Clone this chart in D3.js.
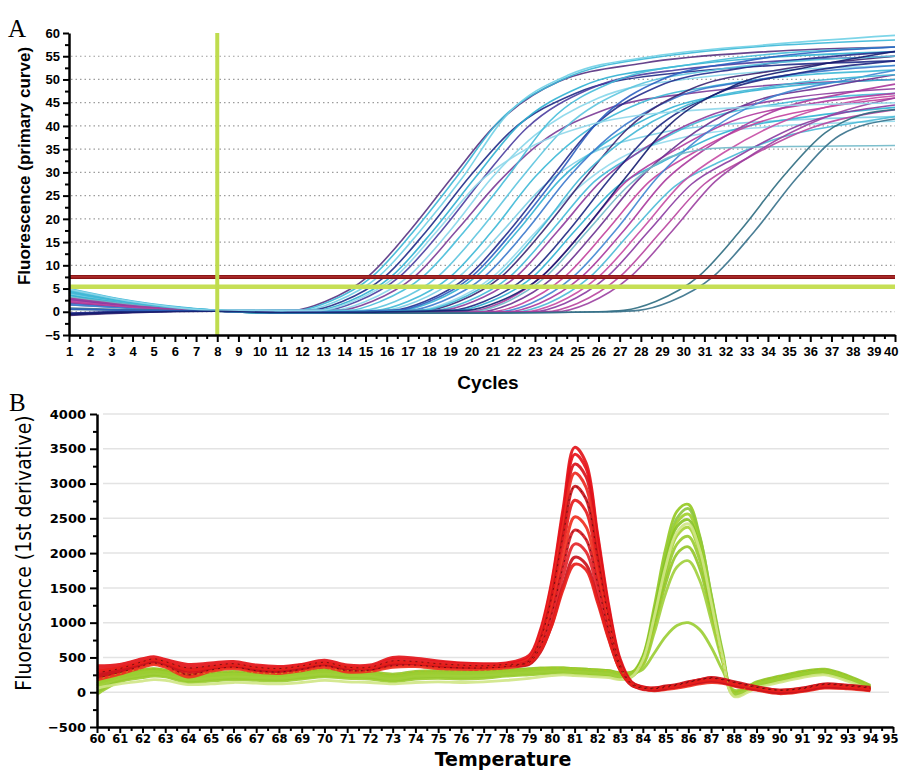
<!DOCTYPE html>
<html>
<head>
<meta charset="utf-8">
<script src="https://cdn.jsdelivr.net/npm/d3@7"></script>
<style>
  body { margin: 0; background: #fff; }
  svg { display: block; }
</style>
</head>
<body>
<div id="wrapper"></div>
<script>
// ---------- Panel A : amplification (primary curve) ----------
const cycleTicks = [1,2,3,4,5,6,7,8,9,10,11,12,13,14,15,16,17,18,19,20,21,22,23,24,25,26,27,28,29,30,31,32,33,34,35,36,37,38,39,40];
const fluorTicksA = [-5,0,5,10,15,20,25,30,35,40,45,50,55,60];
const dottedGridA = [0,10,15,20,25,30,35,40,45,50,55];
const thresholdRed = 7.5;
const thresholdGreen = 5.4;
const markerCycle = 8;

const ampColors = [
  '#57307f','#38b6d6','#6fd0e6','#1f2a86','#2fb0d2','#4a3c9e','#86d6ea','#7a3a96','#45bcd9',
  '#3cb8d6','#7ccfe5','#242c8c','#33b3d4','#3a78cc','#92d9ec','#3b2470','#41bad8','#8e3a9c','#1d2680','#2fb2d3',
  '#b03a9e','#6a2f8e','#c2409c','#3f86d2','#a8379c','#4ab9d6','#c54aa3','#8a3aa0','#6fb8c8','#b8449f','#9b3fa0',
  '#2c6c80','#36708a','#5cc4de','#2e5fc0','#3fb7d5','#8fd7ea','#141c6e'
];

const ampCurves = [
  [[1,2.8],[4,1.5],[8,0.3],[11.6,0.3],[13.1,2.2],[15.1,7.5],[17.1,17.5],[19.1,29],[21.1,40],[24.1,49.5],[28.1,53.5],[34,56],[40,57]],
  [[1,4.8],[4,2.2],[8,0.3],[11.8,0.3],[13.3,2.2],[15.3,7.5],[17.3,17.5],[19.3,29],[21.3,41],[24.3,50],[28.3,54.5],[40,58.5]],
  [[1,4.2],[4,1.8],[8,0.2],[12.1,0.3],[13.6,2.2],[15.6,7.5],[17.6,17.5],[19.6,29],[21.6,42],[24.6,51],[28.6,55],[34,57.5],[40,59.5]],
  [[1,-0.5],[4,0],[8,0.2],[12.4,0.3],[13.9,2.2],[15.9,7.5],[17.9,17.5],[19.9,29],[21.9,39],[24.9,47],[28.9,51],[40,54]],
  [[1,3.5],[4,1.5],[8,0.2],[12.7,0.3],[14.2,2.2],[16.2,7.5],[18.2,17.5],[20.2,29],[22.2,40],[25.2,48.5],[29.2,52.5],[40,56]],
  [[1,1.5],[4,0.8],[8,0.2],[13.1,0.3],[14.6,2.2],[16.6,7.5],[18.6,17.5],[20.6,29],[22.6,39.5],[25.6,48],[29.6,52],[40,55]],
  [[1,4.6],[4,2],[8,0.3],[13.5,0.3],[15,2.2],[17,7.5],[19,17.5],[21,29],[23,38],[26,46],[30,50],[40,53]],
  [[1,2.5],[4,1.2],[8,0.2],[13.8,0.3],[15.3,2.2],[17.3,7.5],[19.3,17.5],[21.3,28],[23.3,36.5],[26.3,43.5],[30.3,47],[40,50]],
  [[1,4],[4,1.8],[8,0.2],[14.2,0.3],[15.7,2.2],[17.7,7.5],[19.7,17.5],[21.7,29],[23.7,41],[26.7,49.5],[30.7,53.5],[40,57]],
  [[1,4.4],[4,2],[8,0.3],[11,-0.2],[15.5,0.3],[17,2.2],[19,7.5],[21,17.5],[23,29],[25,37.5],[28,45],[32,49],[40,52]],
  [[1,3.8],[4,1.7],[8,0.2],[11,-0.2],[15.9,0.3],[17.4,2.2],[19.4,7.5],[21.4,17],[23.4,27],[25.4,33.5],[28.4,38],[32.4,40.5],[40,42]],
  [[1,-0.3],[4,0.1],[8,0.2],[11,-0.2],[16.3,0.3],[17.8,2.2],[19.8,7.5],[21.8,17.5],[23.8,29],[25.8,40],[28.8,48.5],[32.8,52.5],[40,56]],
  [[1,5],[4,2.3],[8,0.3],[11,-0.3],[16.7,0.3],[18.2,2.2],[20.2,7.5],[22.2,17.5],[24.2,28.5],[26.2,36],[29.2,43.5],[33.2,47.5],[40,50]],
  [[1,1.8],[4,0.9],[8,0.2],[11,-0.2],[17.1,0.3],[18.6,2.2],[20.6,7.5],[22.6,17.5],[24.6,29],[26.6,38],[29.6,46],[33.6,50],[40,53]],
  [[1,4.2],[4,1.9],[8,0.2],[11,-0.3],[17.5,0.3],[19,2.2],[21,7.5],[23,17],[25,26.5],[27,33],[30,37.5],[34,39.8],[40,41]],
  [[1,-0.8],[4,-0.2],[8,0.1],[11,-0.2],[17.9,0.3],[19.4,2.2],[21.4,7.5],[23.4,17.5],[25.4,29],[27.4,39.5],[30.4,48],[34.4,52],[40,55]],
  [[1,4.5],[4,2],[8,0.3],[11,-0.2],[18.3,0.3],[19.8,2.2],[21.8,7.5],[23.8,17.5],[25.8,28],[27.8,34],[30.8,41],[34.8,45],[40,47]],
  [[1,2.6],[4,1.3],[8,0.2],[11,-0.2],[18.6,0.3],[20.1,2.2],[22.1,7.5],[24.1,17.5],[26.1,28],[28.1,35],[31.1,42],[35.1,46],[40,48]],
  [[1,-0.4],[4,0],[8,0.2],[11,-0.2],[19.1,0.3],[20.6,2.2],[22.6,7.5],[24.6,17.5],[26.6,29],[28.6,39],[31.6,47],[35.6,51.5],[40,54]],
  [[1,3.6],[4,1.6],[8,0.2],[11,-0.3],[19.4,0.3],[20.9,2.2],[22.9,7.5],[24.9,17.5],[26.9,27],[28.9,32],[31.9,38.5],[35.9,42],[40,44]],
  [[1,2.2],[4,1],[8,0.2],[11,-0.2],[19.8,0],[21.3,1.8],[23.3,7.5],[25.3,17.5],[27.3,28],[29.3,34],[32.3,41],[36.3,45],[40,47]],
  [[1,2],[4,1],[8,0.2],[11,-0.2],[20.4,0],[21.9,1.8],[23.9,7.5],[25.9,17.5],[27.9,28.5],[29.9,36.5],[32.9,44.5],[36.9,48.5],[40,51]],
  [[1,3],[4,1.4],[8,0.2],[11,-0.2],[20.9,0],[22.4,1.8],[24.4,7.5],[26.4,17.5],[28.4,28],[30.4,34],[33.4,40.5],[37.4,44.5],[40,46]],
  [[1,1.5],[4,0.7],[8,0.2],[11,-0.2],[21.3,0],[22.8,1.8],[24.8,7.5],[26.8,17.5],[28.8,29],[30.8,37.5],[33.8,45.5],[37.8,50],[40,52]],
  [[1,2.8],[4,1.3],[8,0.2],[11,-0.2],[21.7,0],[23.2,1.8],[25.2,7.5],[27.2,17.5],[29.2,28.5],[31.2,35.5],[34.2,43],[38.2,47.5],[40,49]],
  [[1,4.1],[4,1.9],[8,0.2],[11,-0.3],[22.1,0],[23.6,1.8],[25.6,7.5],[27.6,17.5],[29.6,27],[31.6,32],[34.6,37.5],[38.6,41],[40,42]],
  [[1,2.4],[4,1.1],[8,0.2],[11,-0.2],[22.5,0],[24,1.8],[26,7.5],[28,17.5],[30,28],[32,34.5],[35,41.5],[39,46],[40,46.5]],
  [[1,2.7],[4,1.2],[8,0.2],[11,-0.2],[22.9,0],[24.4,1.8],[26.4,7.5],[28.4,17.5],[30.4,27.5],[32.4,33],[35.4,40],[40,44.5]],
  [[1,3.2],[4,1.5],[8,0.2],[11,-0.3],[20,0],[21.5,1.8],[23.5,7.5],[25.5,17.5],[27.5,27.5],[29.5,33.5],[32,35.3],[40,35.8]],
  [[1,2.1],[4,1],[8,0.2],[11,-0.2],[23.5,0],[25,1.8],[27,7.5],[29,17.5],[31,27.5],[33,33],[36,39.5],[40,43.5]],
  [[1,2.9],[4,1.3],[8,0.2],[11,-0.2],[24,0],[25.5,1.8],[27.5,7.5],[29.5,17.5],[31.5,28],[33.5,34.5],[36.5,41.5],[40,46]],
  [[1,0.5],[4,0.3],[8,0.1],[11,-0.3],[20,-0.3],[26,0],[27.2,0.3],[28.7,2.2],[30.7,7.5],[32.7,17.5],[34.7,29],[36.7,38.5],[38.5,42.5],[40,43.5]],
  [[1,0.8],[4,0.4],[8,0.1],[11,-0.3],[20,-0.3],[26.5,0],[27.9,0.3],[29.4,2.2],[31.4,7.5],[33.4,17.5],[35.4,29],[37.4,38],[40,41.5]],
  [[1,4.7],[4,2.1],[8,0.3],[11,-0.2],[14.9,0.3],[16.4,2.2],[18.4,7.5],[20.4,17.5],[22.4,29],[24.4,39.5],[27.4,48],[31.4,52],[40,55]],
  [[1,0.6],[4,0.3],[8,0.1],[11,-0.2],[16.5,0.3],[18,2.2],[20,7.5],[22,17.5],[24,29],[26,41],[29,50],[33,54],[40,57]],
  [[1,4.3],[4,1.9],[8,0.2],[11,-0.3],[17.7,0.3],[19.2,2.2],[21.2,7.5],[23.2,17.5],[25.2,29],[27.2,37],[30.2,44.5],[34.2,48.5],[40,51]],
  [[1,4.9],[4,2.2],[8,0.3],[12.9,0.3],[14.4,2.2],[16.4,7.5],[18.4,17.5],[20.4,28],[22.4,34.5],[25.4,40],[29.4,43],[40,45]],
  [[1,-0.6],[4,-0.1],[8,0.1],[11,-0.2],[19.8,0.3],[21.3,2.2],[23.3,7.5],[25.3,17.5],[27.3,29],[29.3,40],[32.3,48.5],[36.3,53],[40,56]]
];

// ---------- Panel B : melt curves (1st derivative) ----------
const tempTicks = [60,61,62,63,64,65,66,67,68,69,70,71,72,73,74,75,76,77,78,79,80,81,82,83,84,85,86,87,88,89,90,91,92,93,94,95];
const derivTicks = [-500,0,500,1000,1500,2000,2500,3000,3500,4000];
const gridB = [0,500,1000,1500,2000,2500,3000,3500,4000];
const meltTemps = [60,61,62,62.5,63,64,65,66,67,68,69,70,71,72,73,74,75,76,77,78,79,79.5,80,80.5,81,81.5,82,82.5,83,83.5,84,84.5,85,85.5,86,86.5,87,87.5,88,89,90,91,92,93,94];

const redColors = ['#e3161b','#e8121a','#d9141c','#ee2a22','#cc1419','#e51d1d','#f0301f','#d81a22','#e5262a','#c9141c','#e8201b'];
const redCurves = [
  [380,400,480,510,470,400,420,440,390,370,400,460,390,390,500,490,450,420,410,420, 530,900,1600,2650,3520,3300,2300,1250,480,150,70, 60,80,100,140,170,190,170,130,60,10,40,100,80,50],
  [300,360,450,490,460,360,390,420,370,350,390,440,370,370,470,460,430,410,400,410, 500,860,1560,2580,3420,3220,2250,1200,450,130,60, 50,70,90,130,160,180,160,120,70,20,50,110,90,60],
  [250,330,420,460,430,320,370,400,350,330,370,420,350,350,430,430,400,390,380,390, 470,800,1450,2450,3280,3100,2180,1180,440,140,80, 40,60,80,110,150,170,150,110,50,0,30,90,70,40],
  [220,300,400,440,400,280,340,380,330,310,350,400,330,330,400,410,380,370,360,380, 480,820,1480,2400,3150,2950,2050,1100,400,120,50, 30,50,70,100,140,160,140,100,40,-10,20,80,60,30],
  [200,280,380,420,380,250,320,360,310,290,330,380,310,320,380,390,360,350,350,370, 450,760,1380,2260,2960,2780,1950,1050,400,130,70, 60,90,110,150,180,210,190,150,80,30,60,120,100,70],
  [330,380,470,500,450,330,360,390,340,330,360,420,350,340,420,420,390,380,370,390, 440,720,1300,2120,2760,2600,1820,1000,380,120,60, 40,60,90,120,150,170,150,110,50,10,40,100,80,40],
  [180,260,360,400,360,220,300,340,290,270,310,360,290,300,360,370,340,330,330,350, 420,680,1200,1950,2520,2380,1700,950,370,120,50, 20,40,60,90,120,140,130,90,30,-20,10,60,50,20],
  [280,340,440,480,440,350,380,410,360,340,380,430,360,360,450,440,410,390,380,400, 430,660,1130,1820,2330,2200,1580,880,350,110,60, 50,70,100,140,180,200,180,140,70,30,50,110,90,60],
  [350,390,470,500,460,370,400,430,370,350,380,450,380,370,460,460,420,400,390,400, 410,620,1050,1680,2130,2020,1470,830,330,110,40, 40,60,80,110,140,160,150,110,50,0,30,90,70,40],
  [240,310,410,450,410,300,350,380,320,300,340,400,330,330,410,410,380,360,360,380, 400,580,970,1540,1940,1840,1350,780,320,100,50, 30,50,80,110,140,160,140,100,40,-10,20,70,60,30],
  [300,350,430,470,430,320,360,390,350,330,370,420,360,350,430,420,400,380,370,390, 420,600,960,1480,1840,1760,1300,760,320,110,60, 50,70,90,120,160,180,160,120,60,20,40,100,80,50]
];

const greenColors = ['#93c91f','#8cc63f','#9fcf2a','#86c225','#a5d235','#98cb2c','#8fc72a','#a0cf3a','#9acd32','#cfe685'];
const greenCurves = [
  [100,230,290,310,290,210,230,250,240,230,260,290,270,260,220,260,270,260,270,290, 310,320,330,330,320,310,300,290,250,270, 520,1230,2060,2600,2700,2250,1400,560,-30, 120,200,270,310,220,80],
  [50,200,260,280,270,190,210,230,220,210,240,270,250,240,200,240,250,240,250,270, 290,300,310,310,300,290,280,270,230,250, 480,1150,1950,2500,2640,2230,1420,600,0, 140,220,290,320,230,90],
  [150,250,310,330,310,240,260,280,260,250,280,310,290,280,240,280,290,280,290,310, 330,340,350,350,340,330,320,310,270,280, 450,1100,1900,2440,2560,2150,1350,540,-50, 100,180,250,290,200,60],
  [0,170,230,250,240,160,180,200,190,180,210,240,220,210,170,210,220,210,220,250, 270,280,290,290,280,270,260,250,210,240, 500,1140,1880,2380,2480,2080,1300,520,-20, 90,170,240,280,190,50],
  [120,210,270,290,270,200,220,240,230,220,250,280,260,250,210,250,260,250,260,280, 300,310,320,320,310,300,290,280,240,260, 430,1020,1750,2250,2370,2000,1270,520,10, 130,210,280,310,220,70],
  [-30,150,210,230,220,140,160,180,170,160,190,220,200,190,150,190,200,190,200,230, 250,260,270,270,260,250,240,230,190,220, 420,980,1660,2130,2240,1900,1200,480,-40, 80,160,230,270,180,40],
  [180,270,330,340,320,260,280,300,280,270,300,330,310,300,260,300,310,300,310,320, 340,350,350,350,340,330,320,310,280,290, 400,920,1560,1990,2090,1780,1130,470,0, 150,230,300,330,240,100],
  [80,190,250,270,250,180,200,220,210,200,230,260,240,230,190,230,240,230,240,260, 280,290,300,300,290,280,270,260,220,240, 380,850,1420,1800,1890,1610,1040,440,-20, 110,190,260,300,210,60],
  [130,220,280,300,280,220,240,260,250,240,270,300,280,270,230,270,280,270,280,300, 320,330,340,340,330,320,310,300,260,270, 330,560,800,960,1000,900,650,320,30, 120,200,260,300,210,70],
  [60,120,160,180,170,110,120,140,130,120,140,170,150,140,120,140,150,140,150,170, 200,220,240,250,240,230,220,210,180,220, 460,1080,1800,2300,2420,2050,1300,520,-60, 60,140,210,250,160,30]
];

const W = 899, H = 770;
const svg = d3.select('#wrapper').append('svg').attr('width', W).attr('height', H);

const tickFont = 'Liberation Sans, Arial, sans-serif';
const wideFont = 'DejaVu Sans, Verdana, sans-serif';

// ================= Panel A =================
const dimsA = { left: 69, right: 895, top: 33, bottom: 335 };
const xA = d3.scaleLinear().domain([1, 40]).range([dimsA.left, dimsA.right]);
const yA = d3.scaleLinear().domain([-5, 60]).range([dimsA.bottom, dimsA.top]);

const gA = svg.append('g');

gA.append('g').selectAll('line').data(dottedGridA).join('line')
  .attr('x1', xA(1) + 2).attr('x2', xA(40))
  .attr('y1', d => yA(d)).attr('y2', d => yA(d))
  .attr('stroke', '#9c9c9c').attr('stroke-width', 1.2)
  .attr('stroke-dasharray', '1.5,3');

const lineA = d3.line()
  .x(d => xA(d[0]))
  .y(d => yA(d[1]))
  .curve(d3.curveMonotoneX);

gA.append('g').selectAll('path').data(ampCurves).join('path')
  .attr('d', lineA)
  .attr('fill', 'none')
  .attr('stroke', (d, i) => ampColors[i])
  .attr('stroke-width', 1.6)
  .attr('stroke-opacity', 0.9);

// threshold / marker lines
gA.append('line')
  .attr('x1', xA(1)).attr('x2', xA(40))
  .attr('y1', yA(thresholdGreen)).attr('y2', yA(thresholdGreen))
  .attr('stroke', '#c6df55').attr('stroke-width', 4.5);
gA.append('line')
  .attr('x1', xA(1)).attr('x2', xA(40))
  .attr('y1', yA(thresholdRed)).attr('y2', yA(thresholdRed))
  .attr('stroke', '#8a1616').attr('stroke-width', 4);
gA.append('line')
  .attr('x1', xA(1)).attr('x2', xA(40))
  .attr('y1', yA(thresholdRed)).attr('y2', yA(thresholdRed))
  .attr('stroke', '#c23a3a').attr('stroke-width', 1);
gA.append('line')
  .attr('x1', xA(markerCycle)).attr('x2', xA(markerCycle))
  .attr('y1', yA(60)).attr('y2', yA(-5))
  .attr('stroke', '#bfdc4e').attr('stroke-width', 4);

// axes A
gA.append('g')
  .attr('transform', `translate(${dimsA.left},0)`)
  .call(d3.axisLeft(yA).tickValues(fluorTicksA).tickSize(6).tickSizeOuter(0).tickPadding(3));
gA.append('g')
  .attr('transform', `translate(${dimsA.left},0)`)
  .call(d3.axisLeft(yA).tickValues(fluorTicksA.slice(0, -1).map(v => v + 2.5)).tickSize(4).tickFormat('').tickSizeOuter(0))
  .select('.domain').remove();

const xAxisA = gA.append('g')
  .attr('transform', `translate(0,${dimsA.bottom})`)
  .call(d3.axisBottom(xA).tickValues(cycleTicks).tickSize(7).tickSizeOuter(0).tickPadding(5));
gA.append('g')
  .attr('transform', `translate(0,${dimsA.bottom})`)
  .call(d3.axisBottom(xA).tickValues(cycleTicks.slice(0, -1).map(v => v + 0.5)).tickSize(4).tickFormat('').tickSizeOuter(0))
  .select('.domain').remove();

gA.selectAll('.domain').attr('stroke', '#000').attr('stroke-width', 2.5);
gA.selectAll('.tick line').attr('stroke', '#000').attr('stroke-width', 2);
gA.selectAll('.tick text')
  .attr('font-family', tickFont).attr('font-weight', 'bold')
  .attr('font-size', 13).attr('fill', '#000');
xAxisA.selectAll('.tick text').filter(d => d === 40).attr('text-anchor', 'end').attr('dx', 3);

gA.append('text')
  .attr('x', 488).attr('y', 389)
  .attr('text-anchor', 'middle')
  .attr('font-family', tickFont).attr('font-weight', 'bold').attr('font-size', 19)
  .text('Cycles');

gA.append('text')
  .attr('transform', 'translate(30,166) rotate(-90)')
  .attr('text-anchor', 'middle')
  .attr('font-family', tickFont).attr('font-weight', 'bold').attr('font-size', 17)
  .text('Fluorescence (primary curve)');

svg.append('text')
  .attr('x', 8).attr('y', 37)
  .attr('font-family', 'Liberation Serif, Times New Roman, serif')
  .attr('font-size', 25)
  .text('A');

// ================= Panel B =================
const dimsB = { left: 97, right: 893, top: 414, bottom: 727 };
const xB = d3.scaleLinear().domain([60, 95]).range([dimsB.left, dimsB.right]);
const yB = d3.scaleLinear().domain([-500, 4000]).range([dimsB.bottom, dimsB.top]);

const gB = svg.append('g');

gB.append('g').selectAll('line').data(gridB).join('line')
  .attr('x1', xB(60) + 6).attr('x2', xB(95) - 4)
  .attr('y1', d => yB(d)).attr('y2', d => yB(d))
  .attr('stroke', '#e3e3e3').attr('stroke-width', 1.5);

const lineB = d3.line()
  .x((d, i) => xB(meltTemps[i]))
  .y(d => yB(d))
  .curve(d3.curveCatmullRom.alpha(0.5));

gB.append('g').selectAll('path').data(greenCurves).join('path')
  .attr('d', lineB)
  .attr('fill', 'none')
  .attr('stroke', (d, i) => greenColors[i])
  .attr('stroke-width', 2.8)
  .attr('stroke-opacity', 0.9);

gB.append('g').selectAll('path').data(redCurves).join('path')
  .attr('d', lineB)
  .attr('fill', 'none')
  .attr('stroke', (d, i) => redColors[i])
  .attr('stroke-width', 3)
  .attr('stroke-opacity', 0.92);

// thin dark traces running inside the bands
gB.append('g').selectAll('path').data([redCurves[4], redCurves[7], greenCurves[6]]).join('path')
  .attr('d', lineB)
  .attr('fill', 'none')
  .attr('stroke', (d, i) => i < 2 ? '#3a0808' : '#c8c020')
  .attr('stroke-width', 0.9)
  .attr('stroke-dasharray', '2,4')
  .attr('stroke-opacity', 0.7);

// axes B
gB.append('g')
  .attr('class', 'y-axis')
  .attr('transform', `translate(${dimsB.left},0)`)
  .call(d3.axisLeft(yB).tickValues(derivTicks).tickFormat(d3.format('d')).tickSize(7).tickSizeOuter(0).tickPadding(4));
gB.append('g')
  .attr('transform', `translate(${dimsB.left},0)`)
  .call(d3.axisLeft(yB).tickValues(derivTicks.slice(0, -1).map(v => v + 250)).tickSize(4).tickFormat('').tickSizeOuter(0))
  .select('.domain').remove();

const xAxisB = gB.append('g')
  .attr('transform', `translate(0,${dimsB.bottom})`)
  .call(d3.axisBottom(xB).tickValues(tempTicks).tickSize(6).tickSizeOuter(0).tickPadding(2));
gB.append('g')
  .attr('transform', `translate(0,${dimsB.bottom})`)
  .call(d3.axisBottom(xB).tickValues(tempTicks.slice(0, -1).map(v => v + 0.5)).tickSize(4).tickFormat('').tickSizeOuter(0))
  .select('.domain').remove();

gB.selectAll('.domain').attr('stroke', '#000').attr('stroke-width', 2.5);
gB.selectAll('.tick line').attr('stroke', '#000').attr('stroke-width', 2);
gB.selectAll('.tick text')
  .attr('font-family', wideFont).attr('font-weight', 'bold')
  .attr('font-size', 11.5).attr('fill', '#000');
gB.select('.y-axis').selectAll('.tick text').attr('font-size', 13);
xAxisB.selectAll('.tick text').filter(d => d === 95).attr('text-anchor', 'end').attr('dx', 5);

gB.append('text')
  .attr('x', 503).attr('y', 766)
  .attr('text-anchor', 'middle')
  .attr('font-family', wideFont).attr('font-weight', 'bold').attr('font-size', 19)
  .text('Temperature');

gB.append('text')
  .attr('transform', 'translate(31,553) rotate(-90)')
  .attr('text-anchor', 'middle')
  .attr('font-family', 'Liberation Sans Narrow, DejaVu Sans Condensed, Arial Narrow, sans-serif')
  .attr('font-stretch', 'condensed')
  .attr('font-size', 21)
  .text('Fluorescence (1st derivative)');

svg.append('text')
  .attr('x', 9).attr('y', 411)
  .attr('font-family', 'Liberation Serif, Times New Roman, serif')
  .attr('font-size', 25)
  .text('B');
</script>
</body>
</html>
